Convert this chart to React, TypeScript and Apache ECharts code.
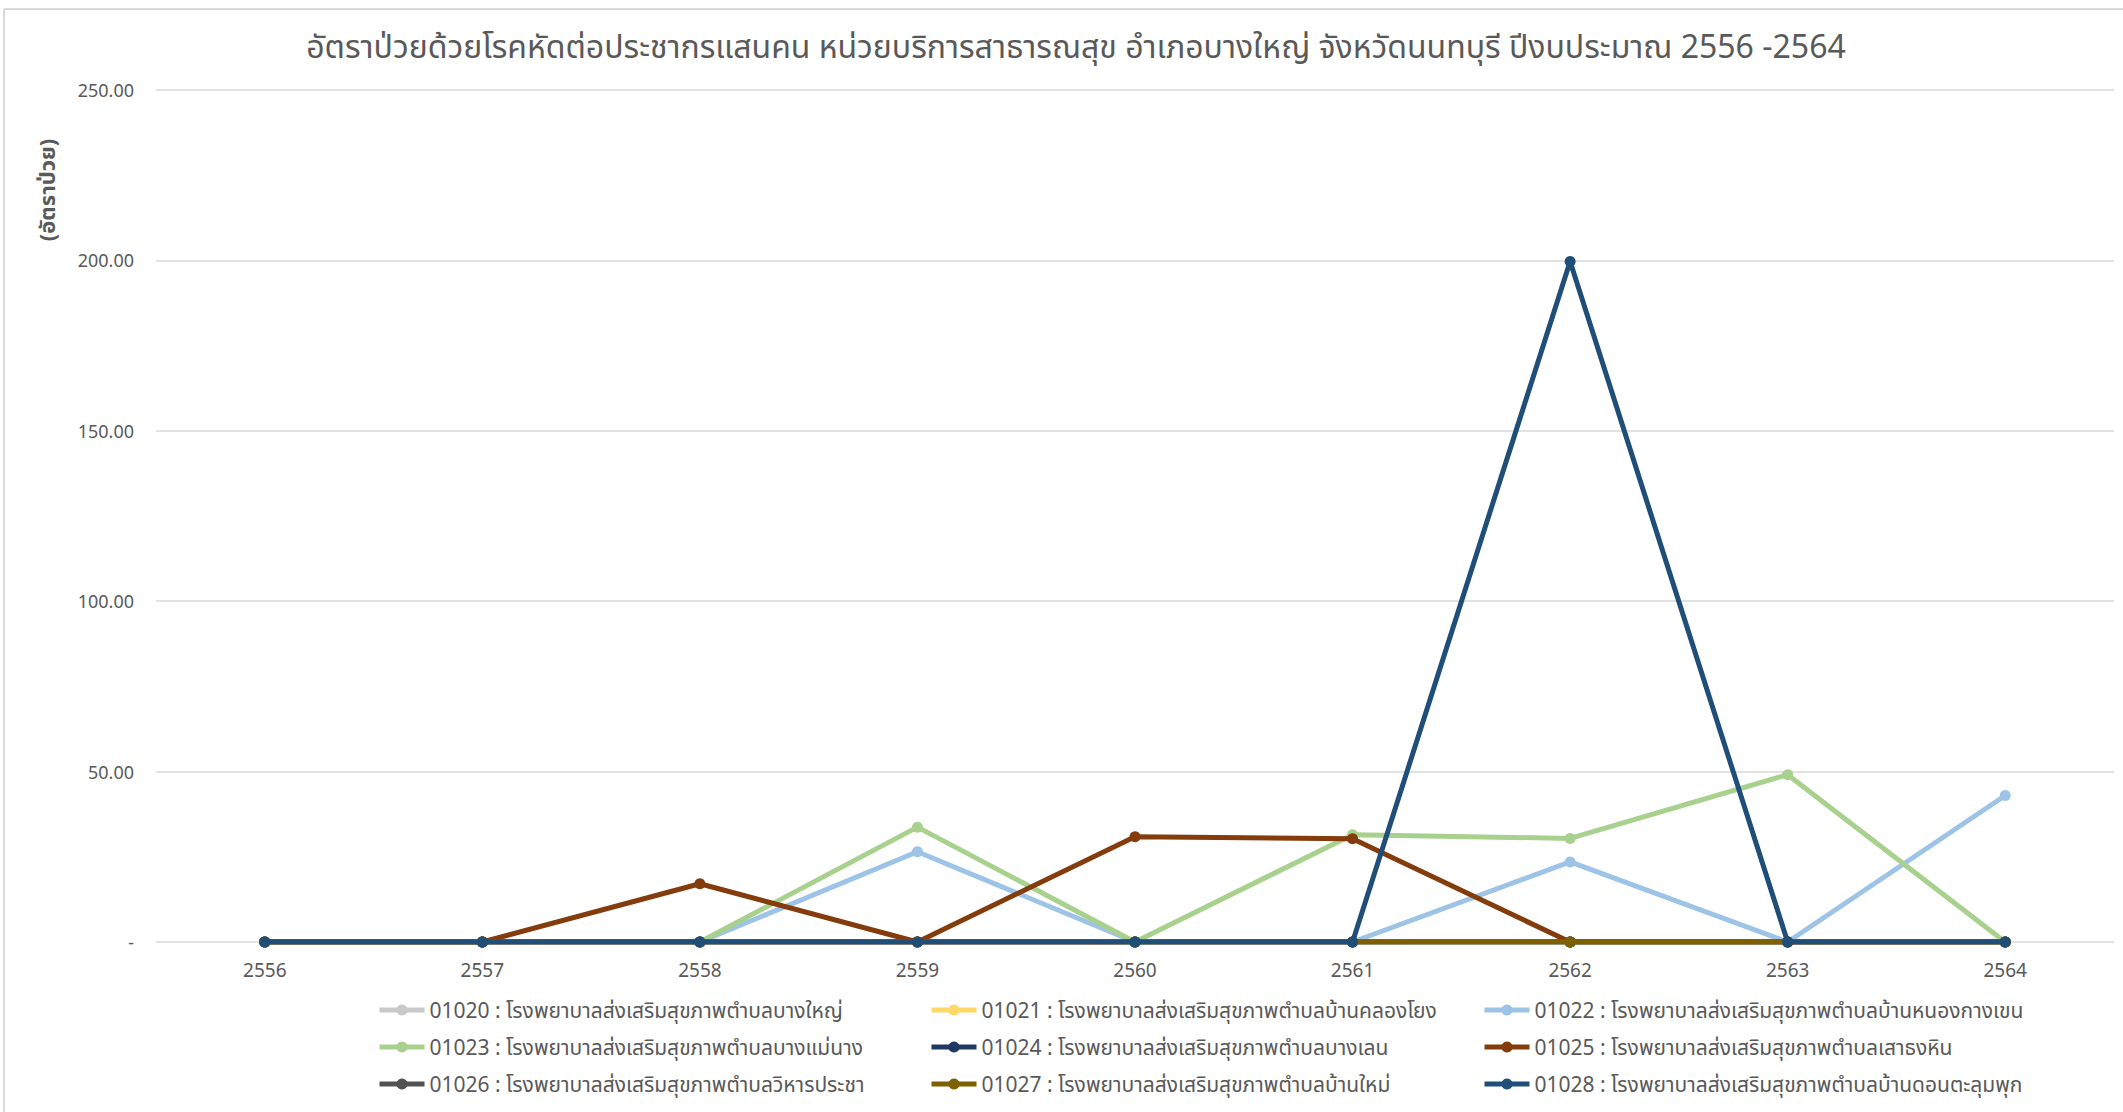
import React, { useEffect, useRef } from "react";
import * as echarts from "echarts";

const years = ["2556", "2557", "2558", "2559", "2560", "2561", "2562", "2563", "2564"];

const seriesNames = [
  "01020 : โรงพยาบาลส่งเสริมสุขภาพตำบลบางใหญ่",
  "01021 : โรงพยาบาลส่งเสริมสุขภาพตำบลบ้านคลองโยง",
  "01022 : โรงพยาบาลส่งเสริมสุขภาพตำบลบ้านหนองกางเขน",
  "01023 : โรงพยาบาลส่งเสริมสุขภาพตำบลบางแม่นาง",
  "01024 : โรงพยาบาลส่งเสริมสุขภาพตำบลบางเลน",
  "01025 : โรงพยาบาลส่งเสริมสุขภาพตำบลเสาธงหิน",
  "01026 : โรงพยาบาลส่งเสริมสุขภาพตำบลวิหารประชา",
  "01027 : โรงพยาบาลส่งเสริมสุขภาพตำบลบ้านใหม่",
  "01028 : โรงพยาบาลส่งเสริมสุขภาพตำบลบ้านดอนตะลุมพุก",
];

const v01020 = [0, 0, 0, 0, 0, 0, 0, 0, 0];
const v01021 = [0, 0, 0, 0, 0, 0, 0, 0, 0];
const v01022 = [0, 0, 0, 26.5, 0, 0, 23.5, 0, 43.0];
const v01023 = [0, 0, 0, 33.7, 0, 31.5, 30.4, 49.1, 0];
const v01024 = [0, 0, 0, 0, 0, 0, 0, 0, 0];
const v01025 = [0, 0, 17.1, 0, 30.9, 30.3, 0, 0, 0];
const v01026 = [0, 0, 0, 0, 0, 0, 0, 0, 0];
const v01027 = [0, 0, 0, 0, 0, 0, 0, 0, 0];
const v01028 = [0, 0, 0, 0, 0, 0, 199.7, 0, 0];

const seriesValues = [v01020, v01021, v01022, v01023, v01024, v01025, v01026, v01027, v01028];
const seriesColors = [
  "#C9C9C9", "#FFD966", "#9DC3E6", "#A9D18E", "#203864",
  "#843C0C", "#525252", "#7F6000", "#1F4E79",
];

const titleText =
  "อัตราป่วยด้วยโรคหัดต่อประชากรแสนคน หน่วยบริการสาธารณสุข อำเภอบางใหญ่ จังหวัดนนทบุรี ปีงบประมาณ 2556 -2564";
const yAxisTitle = "(อัตราป่วย)";

const FONT = "'Noto Sans', 'Noto Sans Thai', 'DejaVu Sans', sans-serif";

export default function App() {
  const ref = useRef<HTMLDivElement>(null);
  useEffect(() => {
    if (!ref.current) return;
    const chart = echarts.init(ref.current, null, { renderer: "svg" });
    const legendCols = [0, 1, 2].map((c) => ({
      orient: "vertical",
      left: [372, 924, 1477][c],
      top: 993,
      itemWidth: 45,
      itemHeight: 14,
      itemGap: 13,
      lineStyle: { width: 5 },
      data: [0, 1, 2].map((r) => seriesNames[r * 3 + c]),
      textStyle: { color: "#595959", fontSize: 21, fontFamily: FONT, lineHeight: 24 },
    }));
    chart.setOption({
      animation: false,
      backgroundColor: "#ffffff",
      title: {
        text: titleText,
        left: 1071,
        textAlign: "center",
        top: 24,
        textStyle: { color: "#595959", fontSize: 32, fontWeight: "normal", fontFamily: FONT },
      },
      legend: legendCols,
      grid: { left: 156, right: 9, top: 90, bottom: 170, containLabel: false },
      xAxis: {
        type: "category",
        data: years,
        boundaryGap: true,
        axisLine: { show: false },
        axisTick: { show: false },
        axisLabel: { color: "#595959", fontSize: 19, fontFamily: FONT, margin: 18 },
      },
      yAxis: {
        type: "value",
        min: 0,
        max: 250,
        interval: 50,
        axisLine: { show: false },
        axisTick: { show: false },
        splitLine: { lineStyle: { color: "#D9D9D9", width: 1.5 } },
        axisLabel: {
          color: "#595959",
          fontSize: 18,
          fontFamily: FONT,
          margin: 22,
          formatter: (v: number) => (v === 0 ? "-" : v.toFixed(2)),
        },
      },
      graphic: [
        { type: "line", shape: { x1: 4, y1: 9, x2: 2123, y2: 9 }, style: { stroke: "#D9D9D9", lineWidth: 2 } },
        { type: "line", shape: { x1: 4, y1: 9, x2: 4, y2: 1112 }, style: { stroke: "#D9D9D9", lineWidth: 2 } },
        {
          type: "text",
          x: 46,
          y: 190,
          rotation: Math.PI / 2,
          style: {
            text: yAxisTitle,
            fill: "#595959",
            fontSize: 22,
            fontWeight: "bold",
            fontFamily: FONT,
            textAlign: "center",
            textVerticalAlign: "middle",
          },
        },
      ],
      series: seriesNames.map((name, i) => ({
        name,
        type: "line",
        data: seriesValues[i],
        symbol: "circle",
        symbolSize: 11,
        color: seriesColors[i],
        lineStyle: { width: 5, color: seriesColors[i] },
        itemStyle: { color: seriesColors[i] },
        z: 2 + i,
      })),
    });
    return () => chart.dispose();
  }, []);
  return (
    <div
      ref={ref}
      style={{ position: "absolute", left: 0, top: 0, width: 2123, height: 1112 }}
    />
  );
}
